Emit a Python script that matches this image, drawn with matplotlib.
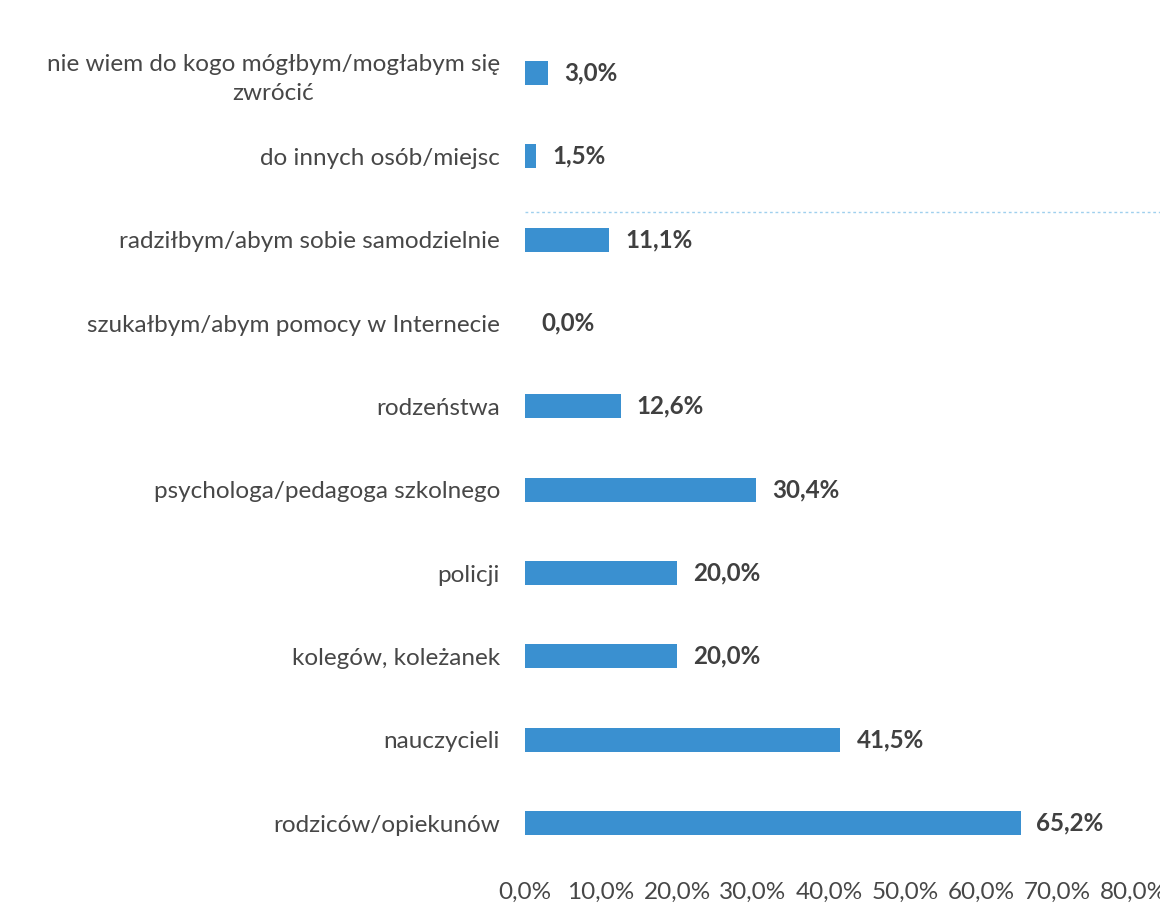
import matplotlib; matplotlib.use("Agg")
import matplotlib.pyplot as plt
import numpy as np

# bottom -> top, as drawn
categories = [
    "rodziców/opiekunów",
    "nauczycieli",
    "kolegów, koleżanek",
    "policji",
    "psychologa/pedagoga szkolnego",
    "rodzeństwa",
    "szukałbym/abym pomocy w Internecie",
    "radziłbym/abym sobie samodzielnie",
    "do innych osób/miejsc",
    "nie wiem do kogo mógłbym/mogłabym się\nzwrócić",
]
values = [65.2, 41.5, 20.0, 20.0, 30.4, 12.6, 0.0, 11.1, 1.5, 3.0]
xticks = [0, 10, 20, 30, 40, 50, 60, 70, 80]

plt.rcParams["font.family"] = ["Lato", "DejaVu Sans"]
fig = plt.figure(figsize=(11.6, 9.06), dpi=100)
ax = fig.add_axes([0.4526, 0.0456, 0.5241, 0.9198])

y = np.arange(len(categories))
ax.barh(y, values, height=0.29, color="#3a90d0")
for yi, v in zip(y, values):
    ax.annotate(f"{v:.1f}%".replace(".", ","), (v, yi), xytext=(11.5, 0), textcoords="offset points",
                va="center", ha="left", fontsize=17.4, fontweight="bold", color="#404040")

# faint scan line across the chart
ax.axhline(7.336, xmin=0, xmax=1.05, color="#9fd0ee", ls=(0, (2, 2)), lw=1, clip_on=False)

ax.set_xlim(0, 80); ax.set_ylim(-0.5, len(categories) - 0.5)
ax.set_yticks(y); ax.set_yticklabels(categories, fontsize=17.5, color="#474747", linespacing=1.45)
for t in ax.get_yticklabels():
    t.set_multialignment("center")
ax.set_xticks(xticks); ax.set_xticklabels([f"{t:.1f}%".replace(".", ",") for t in xticks], fontsize=17.5, color="#474747")
ax.tick_params(axis="y", length=0, pad=18)
ax.tick_params(axis="x", length=0, pad=12)
for s in ax.spines.values():
    s.set_visible(False)

fig.savefig("out.png", dpi=100, facecolor="white")
